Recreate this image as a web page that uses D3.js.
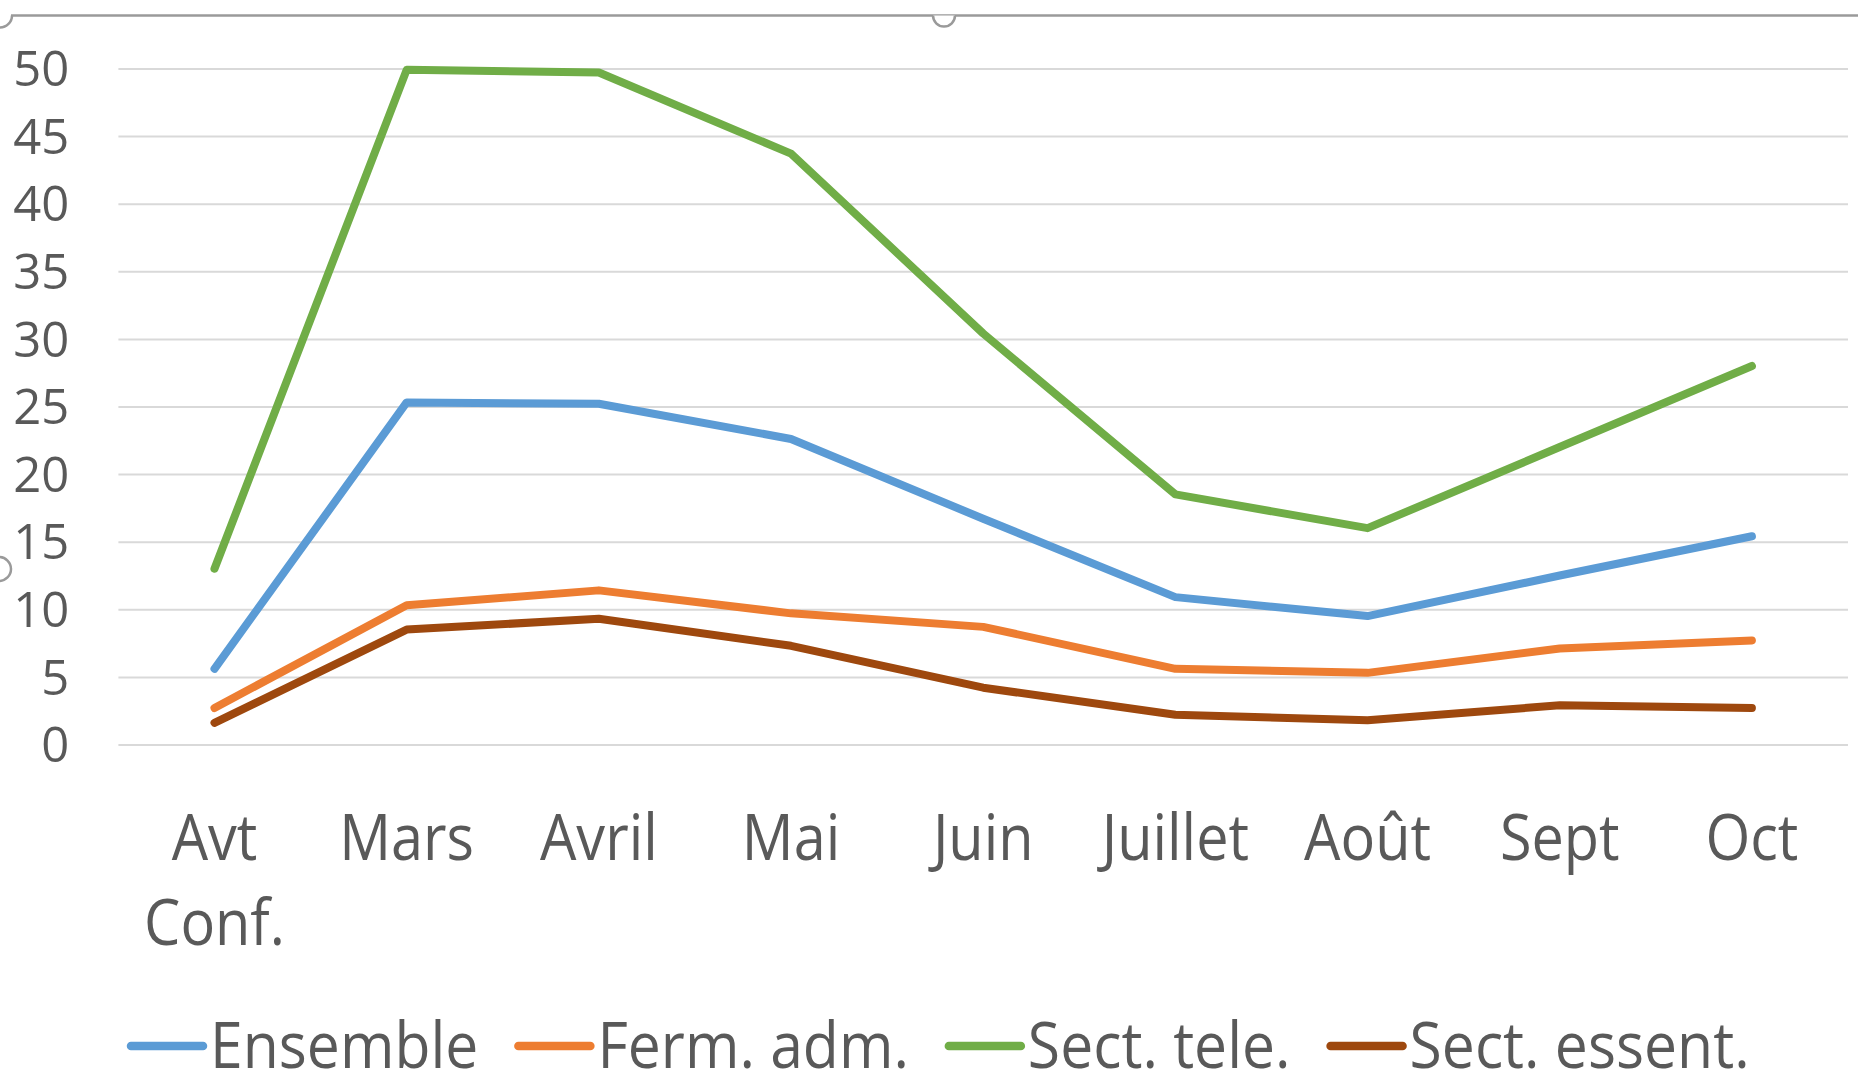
<!DOCTYPE html>
<html>
<head>
<meta charset="utf-8">
<script src="https://cdn.jsdelivr.net/npm/d3@7"></script>
<style>
  body { margin: 0; background: #fff; }
  svg text { font-family: "Open Sans", "Noto Sans", sans-serif; fill: #595959; }
</style>
</head>
<body>
<div id="chartContainer"></div>
<script>
// categories and values
const categories = ["Avt Conf.", "Mars", "Avril", "Mai", "Juin", "Juillet", "Août", "Sept", "Oct"];
const ensemble = [5.6, 25.3, 25.2, 22.6, 16.7, 10.9, 9.5, 12.5, 15.4];
const fermAdm = [2.7, 10.3, 11.4, 9.7, 8.7, 5.6, 5.3, 7.1, 7.7];
const sectTele = [13.0, 49.9, 49.7, 43.7, 30.4, 18.5, 16.0, 22.0, 28.0];
const sectEssent = [1.6, 8.5, 9.3, 7.3, 4.2, 2.2, 1.8, 2.9, 2.7];
const seriesNames = ["Ensemble", "Ferm. adm.", "Sect. tele.", "Sect. essent."];
const seriesColors = ["#5b9bd5", "#ed7d31", "#70ad47", "#9e480e"];
const yTicks = [0, 5, 10, 15, 20, 25, 30, 35, 40, 45, 50];

const W = 1858,
  H = 1071,
  margin = { top: 68.5, right: 10, bottom: 326.5, left: 118.4 },
  width = W - margin.left - margin.right,
  height = H - margin.top - margin.bottom,
  squeeze = 0.9, // Segoe-like narrow text
  legendSqueeze = 0.92;

const series = [ensemble, fermAdm, sectTele, sectEssent].map((values, i) => ({
  name: seriesNames[i],
  color: seriesColors[i],
  values: values
}));

const svg = d3.select("#chartContainer").append("svg").attr("width", W).attr("height", H);

// frame of the selected chart (top edge + handles)
const frame = svg.append("g").attr("fill", "#fff").attr("stroke", "#9a9a9a").attr("stroke-width", 2.5);
frame.append("line").attr("x1", 11).attr("x2", W).attr("y1", 15.5).attr("y2", 15.5);
frame.append("path").attr("fill", "none").attr("d", "M12,15.5 A12,12 0 0 1 0,27.5");
frame.append("path").attr("d", "M933,15.5 A11,11 0 0 0 955,15.5");
frame.append("circle").attr("cx", -1).attr("cy", 569).attr("r", 12);

const g = svg.append("g").attr("transform", `translate(${margin.left},${margin.top})`);

const x = d3.scaleBand().domain(categories).range([0, width]);
const y = d3.scaleLinear().domain([0, 50]).range([height, 0]);

// y axis with gridlines
const yAxis = g
  .append("g")
  .call(d3.axisLeft(y).tickValues(yTicks).tickSize(-width).tickPadding(49).tickFormat(d3.format("d")));
yAxis.select(".domain").remove();
yAxis.selectAll(".tick line").attr("stroke", "#d9d9d9").attr("stroke-width", 2);
yAxis.selectAll(".tick text").style("font-size", "49px").attr("dy", "0.35em");

// x axis labels, wrapped like Excel when wider than a band
const xAxis = g
  .append("g")
  .attr("transform", `translate(0,${height})`)
  .call(d3.axisBottom(x).tickSize(0));
xAxis.select(".domain").remove();
xAxis
  .selectAll(".tick text")
  .style("font-size", "64px")
  .attr("y", 0)
  .attr("dy", 0)
  .attr("transform", `scale(${squeeze},1)`)
  .each(function (d) {
    const text = d3.select(this);
    const words = d.split(" ");
    text.text(null);
    let line = [];
    let tspan = text.append("tspan").attr("x", 0).attr("y", 116);
    let lineNo = 0;
    words.forEach((w) => {
      line.push(w);
      tspan.text(line.join(" "));
      if (tspan.node().getComputedTextLength() * squeeze > x.bandwidth() - 4 && line.length > 1) {
        line.pop();
        tspan.text(line.join(" "));
        line = [w];
        lineNo++;
        tspan = text.append("tspan").attr("x", 0).attr("y", 116 + lineNo * 85).text(w);
      }
    });
  });

// lines
const line = d3
  .line()
  .x((d, i) => x(categories[i]) + x.bandwidth() / 2)
  .y((d) => y(d));

g.selectAll(".series")
  .data(series)
  .enter()
  .append("path")
  .attr("class", "series")
  .attr("fill", "none")
  .attr("stroke", (d) => d.color)
  .attr("stroke-width", 8)
  .attr("stroke-linejoin", "round")
  .attr("stroke-linecap", "round")
  .attr("d", (d) => line(d.values));

// legend
const legend = svg.append("g").attr("transform", "translate(127,0)");
let lx = 0;
series.forEach((s) => {
  const item = legend.append("g").attr("transform", `translate(${lx},0)`);
  item
    .append("line")
    .attr("x1", 4)
    .attr("x2", 76)
    .attr("y1", 1046)
    .attr("y2", 1046)
    .attr("stroke", s.color)
    .attr("stroke-width", 8.5)
    .attr("stroke-linecap", "round");
  const t = item
    .append("text")
    .attr("transform", `translate(83,1068) scale(${legendSqueeze},1)`)
    .style("font-size", "64px")
    .text(s.name);
  lx += 83 + t.node().getComputedTextLength() * legendSqueeze + 36;
});
</script>
</body>
</html>
